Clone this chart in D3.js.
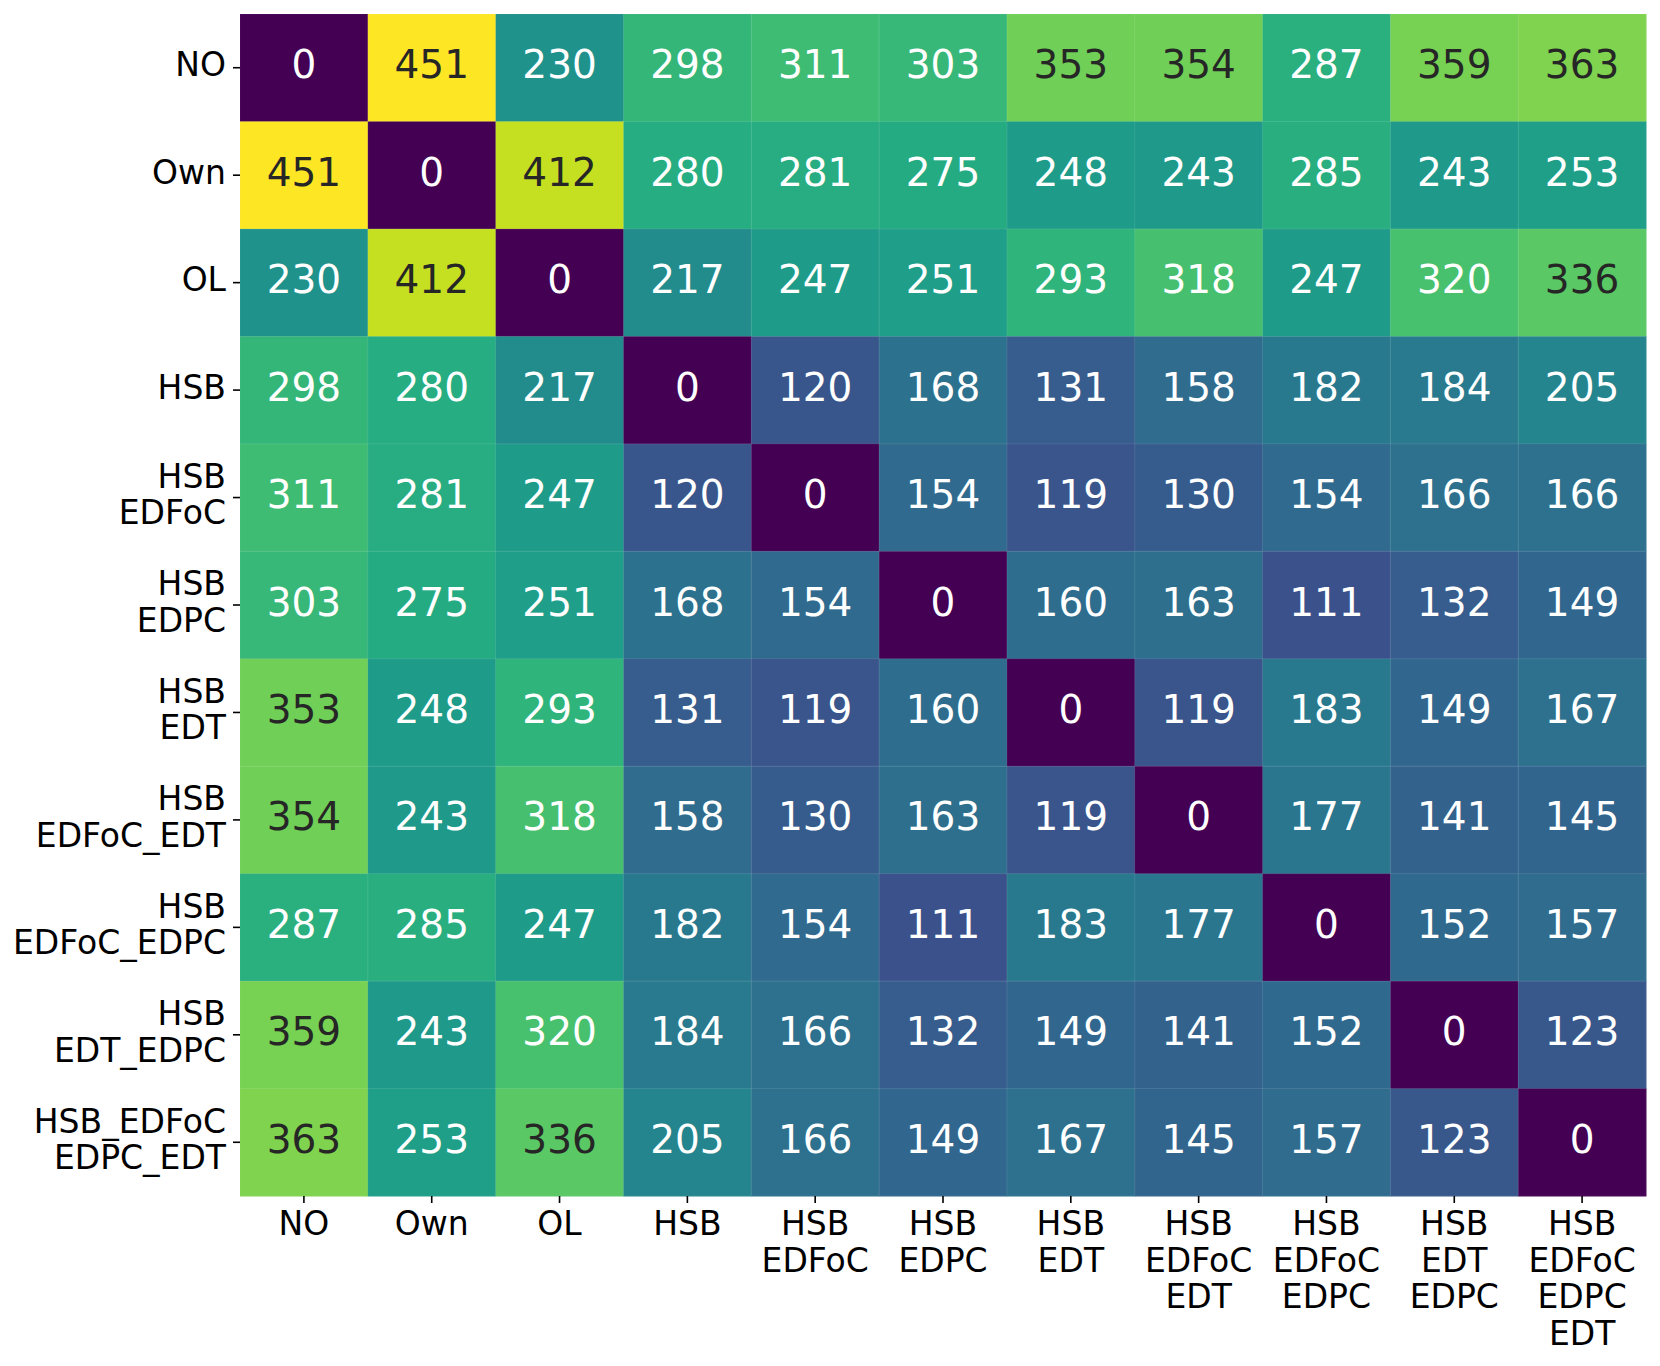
<!DOCTYPE html>
<html>
<head>
<meta charset="utf-8">
<script src="https://cdn.jsdelivr.net/npm/d3@7"></script>
<style>
    body { margin: 0; background: #fff; }
    text { font-family: "DejaVu Sans", sans-serif; }
</style>
</head>
<body>
<svg id="heatmap"></svg>
<script>
// Row / column labels (multi-line labels split on \n)
const rowLabels = [
    "NO", "Own", "OL", "HSB", "HSB\nEDFoC", "HSB\nEDPC", "HSB\nEDT",
    "HSB\nEDFoC_EDT", "HSB\nEDFoC_EDPC", "HSB\nEDT_EDPC", "HSB_EDFoC\nEDPC_EDT"
];
const colLabels = [
    "NO", "Own", "OL", "HSB", "HSB\nEDFoC", "HSB\nEDPC", "HSB\nEDT",
    "HSB\nEDFoC\nEDT", "HSB\nEDFoC\nEDPC", "HSB\nEDT\nEDPC", "HSB\nEDFoC\nEDPC\nEDT"
];

// Distance matrix, one array per row
const rowNO       = [0, 451, 230, 298, 311, 303, 353, 354, 287, 359, 363];
const rowOwn      = [451, 0, 412, 280, 281, 275, 248, 243, 285, 243, 253];
const rowOL       = [230, 412, 0, 217, 247, 251, 293, 318, 247, 320, 336];
const rowHSB      = [298, 280, 217, 0, 120, 168, 131, 158, 182, 184, 205];
const rowEDFoC    = [311, 281, 247, 120, 0, 154, 119, 130, 154, 166, 166];
const rowEDPC     = [303, 275, 251, 168, 154, 0, 160, 163, 111, 132, 149];
const rowEDT      = [353, 248, 293, 131, 119, 160, 0, 119, 183, 149, 167];
const rowEDFoCEDT = [354, 243, 318, 158, 130, 163, 119, 0, 177, 141, 145];
const rowEDFoCEDPC= [287, 285, 247, 182, 154, 111, 183, 177, 0, 152, 157];
const rowEDTEDPC  = [359, 243, 320, 184, 166, 132, 149, 141, 152, 0, 123];
const rowAll      = [363, 253, 336, 205, 166, 149, 167, 145, 157, 123, 0];

const matrix = [rowNO, rowOwn, rowOL, rowHSB, rowEDFoC, rowEDPC, rowEDT,
                rowEDFoCEDT, rowEDFoCEDPC, rowEDTEDPC, rowAll];

const W = 1660, H = 1366;
const margin = { top: 14, right: 14, bottom: 170, left: 240 };
const plotW = 1406, plotH = 1182;

const svg = d3.select("#heatmap").attr("width", W).attr("height", H);
const g = svg.append("g").attr("transform", `translate(${margin.left},${margin.top})`);

const x = d3.scaleBand().domain(d3.range(colLabels.length)).range([0, plotW]);
const y = d3.scaleBand().domain(d3.range(rowLabels.length)).range([0, plotH]);

const maxVal = d3.max(matrix.flat());
const color = d3.scaleSequential(d3.interpolateViridis).domain([0, maxVal]);

// seaborn-style text colour: dark text on light cells
function relLum(c) {
    const rgb = d3.rgb(c);
    const ch = [rgb.r, rgb.g, rgb.b].map(v => {
        v = v / 255;
        return v <= 0.03928 ? v / 12.92 : Math.pow((v + 0.055) / 1.055, 2.4);
    });
    return 0.2126 * ch[0] + 0.7152 * ch[1] + 0.0722 * ch[2];
}

const cells = [];
matrix.forEach((row, i) => row.forEach((v, j) => cells.push({ i, j, v })));

g.selectAll("rect.cell")
    .data(cells)
    .enter().append("rect")
    .attr("class", "cell")
    .attr("x", d => x(d.j))
    .attr("y", d => y(d.i))
    .attr("width", x.bandwidth() + 0.5)
    .attr("height", y.bandwidth() + 0.5)
    .attr("fill", d => color(d.v));

// faint cell seams
g.selectAll("rect.seam")
    .data(cells)
    .enter().append("rect")
    .attr("class", "seam")
    .attr("x", d => x(d.j))
    .attr("y", d => y(d.i))
    .attr("width", x.bandwidth())
    .attr("height", y.bandwidth())
    .attr("fill", "none")
    .attr("stroke", "#ffffff")
    .attr("stroke-opacity", 0.06)
    .attr("stroke-width", 1);

g.selectAll("text.annot")
    .data(cells)
    .enter().append("text")
    .attr("class", "annot")
    .attr("x", d => x(d.j) + x.bandwidth() / 2)
    .attr("y", d => y(d.i) + y.bandwidth() / 2)
    .attr("dy", "0.27em")
    .attr("text-anchor", "middle")
    .style("font-size", "39px")
    .attr("fill", d => relLum(color(d.v)) > 0.408 ? "#262626" : "#ffffff")
    .text(d => d.v);

// Y axis ticks + labels
const lineH = 36.5;
const yTicks = g.selectAll("g.ytick")
    .data(rowLabels)
    .enter().append("g")
    .attr("class", "ytick")
    .attr("transform", (d, i) => `translate(0,${y(i) + y.bandwidth() / 2})`);

yTicks.append("line")
    .attr("x1", -7).attr("x2", 0)
    .attr("stroke", "#000").attr("stroke-width", 1.6);

yTicks.each(function(d) {
    const lines = d.split("\n");
    const t = d3.select(this).append("text")
        .attr("text-anchor", "end")
        .style("font-size", "33px")
        .attr("fill", "#000");
    lines.forEach((ln, k) => {
        t.append("tspan")
            .attr("x", -14)
            .attr("y", (k - (lines.length - 1) / 2) * lineH + 8.7)
            .text(ln);
    });
});

// X axis ticks + labels
const xTicks = g.selectAll("g.xtick")
    .data(colLabels)
    .enter().append("g")
    .attr("class", "xtick")
    .attr("transform", (d, i) => `translate(${x(i) + x.bandwidth() / 2},${plotH})`);

xTicks.append("line")
    .attr("y1", 0).attr("y2", 7)
    .attr("stroke", "#000").attr("stroke-width", 1.6);

xTicks.each(function(d) {
    const lines = d.split("\n");
    const t = d3.select(this).append("text")
        .attr("text-anchor", "middle")
        .style("font-size", "33px")
        .attr("fill", "#000");
    lines.forEach((ln, k) => {
        t.append("tspan")
            .attr("x", 0)
            .attr("y", 39 + k * lineH)
            .text(ln);
    });
});
</script>
</body>
</html>
